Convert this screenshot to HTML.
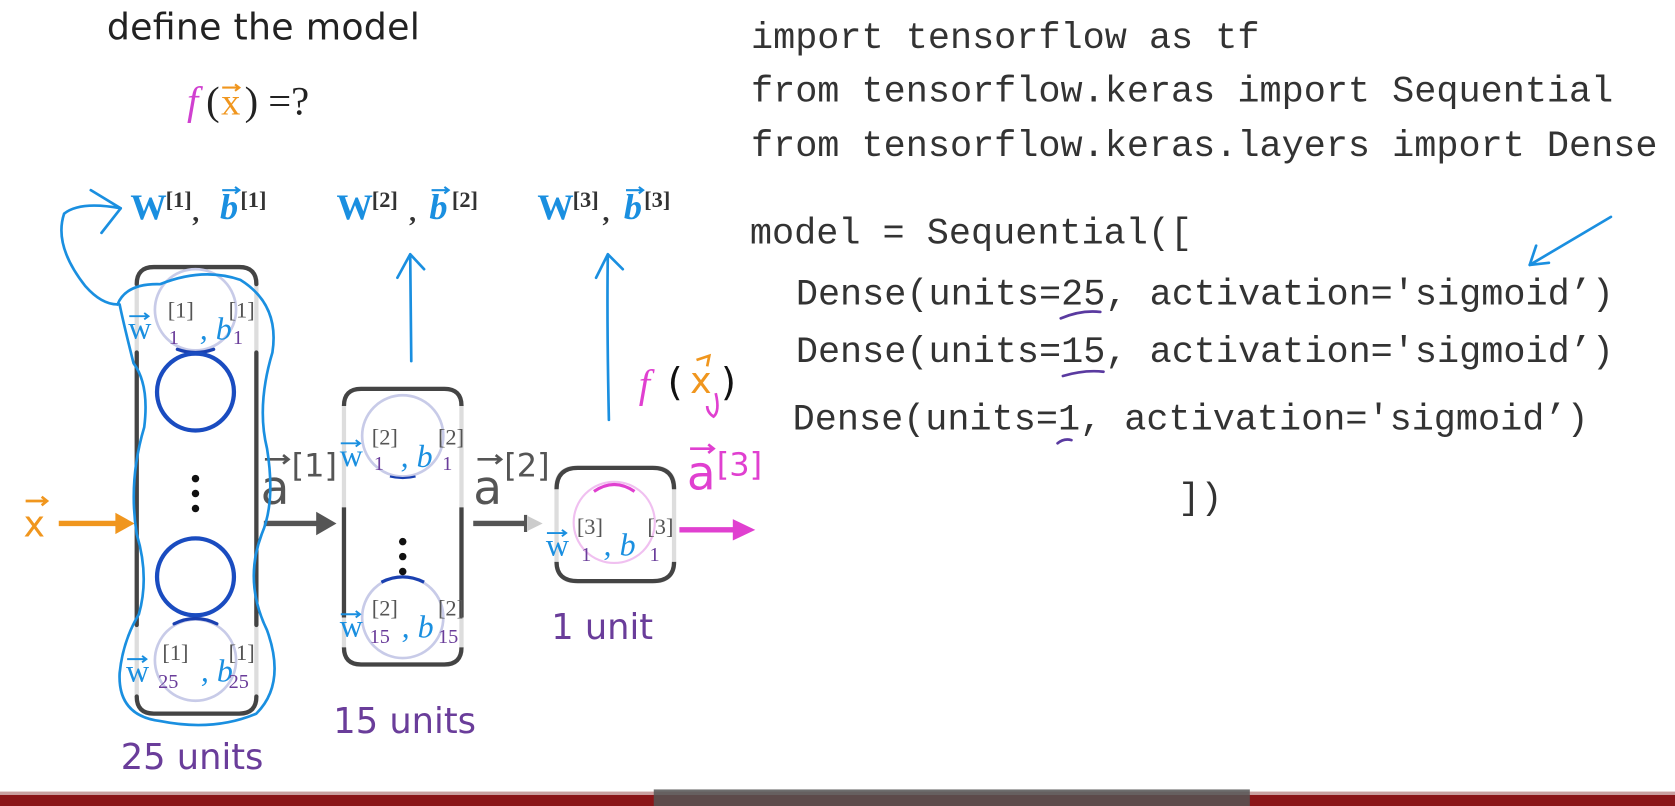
<!DOCTYPE html>
<html><head><meta charset="utf-8"><style>
html,body{margin:0;padding:0;background:#fff;width:1675px;height:806px;overflow:hidden}
svg{display:block}
.mono{font-family:"Liberation Mono",monospace;font-size:34.5px;fill:#333}
.sans{font-family:"DejaVu Sans","Liberation Sans",sans-serif}
.ser{font-family:"Liberation Serif",serif}
</style></head><body>
<svg width="1675" height="806" viewBox="0 0 1568 754.5" xmlns="http://www.w3.org/2000/svg">
<rect width="1568" height="754.5" fill="#fff"/>
<text x="100" y="37" class="sans" font-size="34" fill="#222" textLength="293">define the model</text>
<text x="175" y="107" class="ser" font-size="38" font-style="italic" fill="#d040d0">f</text>
<text x="193" y="107" class="ser" font-size="38" fill="#222">(</text>
<text x="207" y="107" class="ser" font-size="36" fill="#f0961e">x</text>
<path d="M208,82 h16 m-4,-3 l4,3 l-4,3" stroke="#f0961e" stroke-width="2" fill="none"/>
<text x="229" y="107" class="ser" font-size="38" fill="#222">) =?</text>

<g class="mono">
<text x="703" y="45">import tensorflow as tf</text>
<text x="703" y="95">from tensorflow.keras import Sequential</text>
<text x="703" y="146">from tensorflow.keras.layers import Dense</text>
<text x="702" y="228">model = Sequential([</text>
<text x="745" y="285">Dense(units=25, activation='sigmoid’)</text>
<text x="745" y="339">Dense(units=15, activation='sigmoid’)</text>
<text x="742" y="402">Dense(units=1, activation='sigmoid’)</text>
<text x="1103" y="476">])</text>
</g>
<g stroke="#5a3aa0" stroke-width="2.5" fill="none" stroke-linecap="round">
<path d="M993,298 Q1012,290 1030,292"/>
<path d="M995,352 Q1015,346 1033,348"/>
<path d="M990,415 Q996,410 1003,412"/>
</g>
<g stroke="#1a8fe0" stroke-width="2.5" fill="none" stroke-linecap="round">
<path d="M1508,203 L1432,248"/><path d="M1432,248 L1438,230 M1432,248 L1450,246"/>
</g>

<!-- Box 1 -->
<g fill="none" stroke-linecap="round">
<rect x="128" y="250" width="112" height="418" rx="14" stroke="#ddd" stroke-width="4"/>
<path d="M128,266 Q128,250 144,250 L224,250 Q240,250 240,266" stroke="#444" stroke-width="4"/>
<path d="M128,652 Q128,668 144,668 L224,668 Q240,668 240,652" stroke="#444" stroke-width="4"/>
<line x1="128" y1="330" x2="128" y2="585" stroke="#444" stroke-width="4"/>
<line x1="240" y1="330" x2="240" y2="585" stroke="#444" stroke-width="4"/>
<circle cx="183" cy="290" r="38" stroke="#c8cbe8" stroke-width="2.5"/>
<path d="M166,327 Q183,333 200,327" stroke="#1a40b0" stroke-width="3"/>
<circle cx="183" cy="367" r="36" stroke="#1a4cc0" stroke-width="4"/>
<circle cx="183" cy="540" r="36" stroke="#1a4cc0" stroke-width="4"/>
<circle cx="183" cy="618" r="38" stroke="#c8cbe8" stroke-width="2.5"/>
<path d="M163,584 Q183,574 203,584" stroke="#1a40b0" stroke-width="3"/>
</g>
<circle cx="183" cy="448" r="3.5" fill="#111"/><circle cx="183" cy="462" r="3.5" fill="#111"/><circle cx="183" cy="476" r="3.5" fill="#111"/>
<g class="ser">
<text x="120" y="317" font-size="30" fill="#1a8fe0">w</text>
<text x="157" y="297" font-size="21" fill="#555">[1]</text><text x="158" y="322" font-size="19" fill="#6a3d9a">1</text>
<text x="187" y="318" font-size="30" font-style="italic" fill="#1a8fe0">, b</text>
<text x="214" y="297" font-size="21" fill="#555">[1]</text><text x="218" y="322" font-size="19" fill="#6a3d9a">1</text>
<text x="118" y="638" font-size="30" fill="#1a8fe0">w</text>
<text x="152" y="618" font-size="21" fill="#555">[1]</text><text x="148" y="644" font-size="19" fill="#6a3d9a">25</text>
<text x="188" y="638" font-size="30" font-style="italic" fill="#1a8fe0">, b</text>
<text x="214" y="618" font-size="21" fill="#555">[1]</text><text x="214" y="644" font-size="19" fill="#6a3d9a">25</text>
</g>

<!-- Box 2 -->
<g fill="none">
<rect x="322" y="364" width="110" height="258" rx="14" stroke="#ddd" stroke-width="4"/>
<path d="M322,380 Q322,364 338,364 L416,364 Q432,364 432,380" stroke="#444" stroke-width="4"/>
<path d="M322,606 Q322,622 338,622 L416,622 Q432,622 432,606" stroke="#444" stroke-width="4"/>
<line x1="322" y1="475" x2="322" y2="578" stroke="#444" stroke-width="4"/>
<line x1="432" y1="475" x2="432" y2="578" stroke="#444" stroke-width="4"/>
<circle cx="377" cy="408" r="38" stroke="#c8cbe8" stroke-width="2.5"/>
<circle cx="377" cy="578" r="38" stroke="#c8cbe8" stroke-width="2.5"/>
<path d="M357,545 Q377,535 397,545" stroke="#1a40b0" stroke-width="3"/>
<path d="M365,446 Q377,449 389,446" stroke="#1a40b0" stroke-width="2"/>
</g>
<circle cx="377" cy="507" r="3.5" fill="#111"/><circle cx="377" cy="521" r="3.5" fill="#111"/><circle cx="377" cy="535" r="3.5" fill="#111"/>
<g class="ser">
<text x="318" y="436" font-size="30" fill="#1a8fe0">w</text>
<text x="348" y="416" font-size="21" fill="#555">[2]</text><text x="350" y="440" font-size="19" fill="#6a3d9a">1</text>
<text x="375" y="437" font-size="30" font-style="italic" fill="#1a8fe0">, b</text>
<text x="410" y="416" font-size="21" fill="#555">[2]</text><text x="414" y="440" font-size="19" fill="#6a3d9a">1</text>
<text x="318" y="596" font-size="30" fill="#1a8fe0">w</text>
<text x="348" y="576" font-size="21" fill="#555">[2]</text><text x="346" y="602" font-size="19" fill="#6a3d9a">15</text>
<text x="376" y="597" font-size="30" font-style="italic" fill="#1a8fe0">, b</text>
<text x="410" y="576" font-size="21" fill="#555">[2]</text><text x="410" y="602" font-size="19" fill="#6a3d9a">15</text>
</g>

<!-- Box 3 -->
<g fill="none">
<rect x="521" y="438" width="110" height="106" rx="16" stroke="#ddd" stroke-width="4"/>
<path d="M521,458 Q521,438 541,438 L611,438 Q631,438 631,458" stroke="#444" stroke-width="4"/>
<path d="M521,526 Q521,544 541,544 L611,544 Q631,544 631,526" stroke="#444" stroke-width="4"/>
<circle cx="575" cy="489" r="38" stroke="#f0c0f0" stroke-width="2"/>
<path d="M556,460 Q575,447 594,460" stroke="#e040d0" stroke-width="3"/>
</g>
<g class="ser">
<text x="511" y="520" font-size="30" fill="#1a8fe0">w</text>
<text x="540" y="500" font-size="21" fill="#555">[3]</text><text x="544" y="525" font-size="19" fill="#6a3d9a">1</text>
<text x="565" y="520" font-size="30" font-style="italic" fill="#1a8fe0">, b</text>
<text x="606" y="500" font-size="21" fill="#555">[3]</text><text x="608" y="525" font-size="19" fill="#6a3d9a">1</text>
</g>
<g stroke="#1a8fe0" stroke-width="1.8" fill="none">
<path d="M121,296 h18 m-4,-3 l4,3 l-4,3"/>
<path d="M119,617 h18 m-4,-3 l4,3 l-4,3"/>
<path d="M319,415 h18 m-4,-3 l4,3 l-4,3"/>
<path d="M319,575 h18 m-4,-3 l4,3 l-4,3"/>
<path d="M512,499 h18 m-4,-3 l4,3 l-4,3"/>
</g>

<!-- arrows -->
<line x1="55" y1="490" x2="110" y2="490" stroke="#f0961e" stroke-width="5"/>
<path d="M108,480 L126,490 L108,500Z" fill="#f0961e"/>
<text x="22" y="502" class="sans" font-size="34" fill="#f0961e">x</text>
<path d="M24,469 h20 m-5,-4 l5,4 l-5,4" stroke="#f0961e" stroke-width="2.5" fill="none"/>
<line x1="247" y1="490" x2="298" y2="490" stroke="#555" stroke-width="5"/>
<path d="M296,479 L315,490 L296,501Z" fill="#555"/>
<text x="244" y="472" class="sans" font-size="44" fill="#555">a</text>
<path d="M248,430 h22 m-5,-4 l5,4 l-5,4" stroke="#555" stroke-width="2.5" fill="none"/>
<text x="273" y="446" class="sans" font-size="30" fill="#555">[1]</text>
<line x1="443" y1="490" x2="492" y2="490" stroke="#555" stroke-width="5"/>
<line x1="492" y1="482" x2="492" y2="498" stroke="#555" stroke-width="3"/>
<path d="M494,483 L508,490 L494,497Z" fill="#ccc"/>
<text x="443" y="472" class="sans" font-size="44" fill="#555">a</text>
<path d="M447,430 h22 m-5,-4 l5,4 l-5,4" stroke="#555" stroke-width="2.5" fill="none"/>
<text x="472" y="446" class="sans" font-size="30" fill="#555">[2]</text>
<line x1="636" y1="496" x2="690" y2="496" stroke="#e040d0" stroke-width="5"/>
<path d="M686,486 L707,496 L686,506Z" fill="#e040d0"/>
<text x="643" y="458" class="sans" font-size="44" fill="#e040d0">a</text>
<path d="M646,420 h22 m-5,-4 l5,4 l-5,4" stroke="#e040d0" stroke-width="2.5" fill="none"/>
<text x="671" y="445" class="sans" font-size="30" fill="#e040d0">[3]</text>

<!-- top labels -->
<g class="ser" font-weight="bold">
<text x="122" y="205" font-size="34" fill="#1a8fe0">W</text><text x="155" y="194" font-size="21" fill="#333">[1]</text><text x="180" y="207" font-size="26" fill="#333">,</text>
<text x="206" y="205" font-size="34" font-style="italic" fill="#1a8fe0">b</text><text x="225" y="194" font-size="21" fill="#333">[1]</text>
<text x="315" y="205" font-size="34" fill="#1a8fe0">W</text><text x="348" y="194" font-size="21" fill="#333">[2]</text><text x="383" y="207" font-size="26" fill="#333">,</text>
<text x="402" y="205" font-size="34" font-style="italic" fill="#1a8fe0">b</text><text x="423" y="194" font-size="21" fill="#333">[2]</text>
<text x="503" y="205" font-size="34" fill="#1a8fe0">W</text><text x="536" y="194" font-size="21" fill="#333">[3]</text><text x="564" y="207" font-size="26" fill="#333">,</text>
<text x="584" y="205" font-size="34" font-style="italic" fill="#1a8fe0">b</text><text x="603" y="194" font-size="21" fill="#333">[3]</text>
</g>
<g stroke="#1a8fe0" stroke-width="2" fill="none">
<path d="M208,178 h16 m-4,-3 l4,3 l-4,3"/>
<path d="M404,178 h16 m-4,-3 l4,3 l-4,3"/>
<path d="M586,178 h16 m-4,-3 l4,3 l-4,3"/>
</g>
<g stroke="#1a8fe0" stroke-width="2.5" fill="none" stroke-linecap="round" stroke-linejoin="round">
<path d="M385,338 L384,238 M372,260 L384,238 L397,252"/>
<path d="M570,393 Q568,300 569,238 M558,260 L569,238 L583,252"/>
<path d="M85,178 L113,195 L95,218"/>
<path d="M113,195 Q75,188 60,200 Q50,230 80,268 Q95,285 110,285"/>
<path d="M110,285 Q118,265 150,266 Q190,250 225,262 Q262,285 255,330 Q240,380 250,420 Q258,470 245,500 Q228,545 250,590 Q268,640 240,668 Q200,685 150,675 Q110,670 112,630 Q115,600 130,575 Q140,540 128,500 Q120,450 135,400 Q140,360 125,340 Q115,300 112,285"/>
</g>

<!-- f(x) handwritten -->
<text x="598" y="372" font-family="Liberation Serif,serif" font-style="italic" font-size="38" fill="#e040d0">f</text>
<text x="625" y="370" class="sans" font-size="36" fill="#111">(</text>
<text x="646" y="368" class="sans" font-size="34" fill="#f0961e">x</text>
<path d="M652,337 L664,333 L662,343" stroke="#f0961e" stroke-width="2.5" fill="none"/>
<text x="675" y="370" class="sans" font-size="36" fill="#111">)</text>
<path d="M670,368 Q674,385 668,390 Q662,386 662,380" stroke="#e040d0" stroke-width="2.5" fill="none"/>

<text x="113" y="720" class="sans" font-size="33" fill="#6a3d9a">25 units</text>
<text x="312" y="686" class="sans" font-size="33" fill="#6a3d9a">15 units</text>
<text x="516" y="598" class="sans" font-size="33" fill="#6a3d9a">1 unit</text>

<rect x="0" y="744" width="1568" height="11" fill="#8a1518"/>
<rect x="0" y="741" width="1568" height="3" fill="#c9a0a0"/>
<rect x="612" y="739" width="558" height="16" fill="#555" opacity="0.85"/>
</svg>
</body></html>
